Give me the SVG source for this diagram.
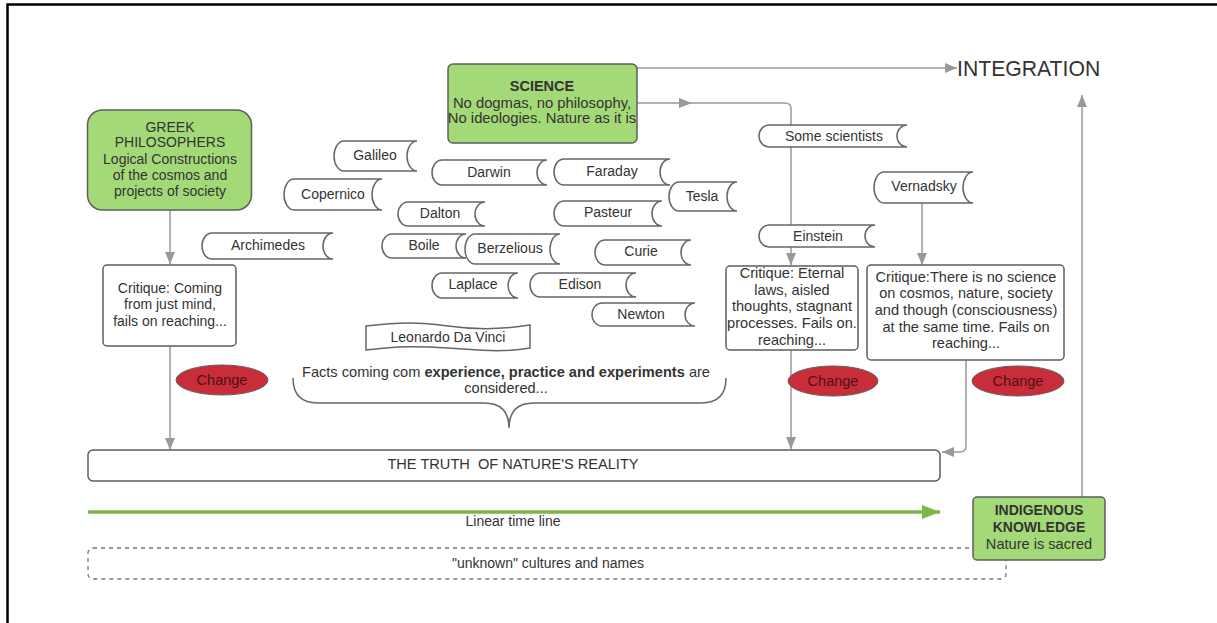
<svg xmlns="http://www.w3.org/2000/svg" width="1217" height="623" viewBox="0 0 1217 623">
<style>
text{font-family:"Liberation Sans",Arial,sans-serif;fill:#333;font-size:14px;text-anchor:middle}
.g{fill:#a3d977;stroke:#5e5e5e;stroke-width:1.5}
.w{fill:#fff;stroke:#5e5e5e;stroke-width:1.5}
.sc{fill:#fff;stroke:#666;stroke-width:1.5}
.ch{fill:#c92d39;stroke:#5e5e5e;stroke-width:1}
.cht{fill:#4d1115;font-size:14.5px}
.b{font-weight:bold}
.c{fill:none;stroke:#999;stroke-width:1.5}
.m{font-size:14.6px}
</style>
<defs>
<marker id="ah" viewBox="0 0 12 10" refX="12" refY="5" markerWidth="12" markerHeight="10" orient="auto" markerUnits="userSpaceOnUse"><path d="M0,0 L12,5 L0,10 z" fill="#999"/></marker>
<marker id="gah" viewBox="0 0 18 14" refX="18" refY="7" markerWidth="18" markerHeight="14" orient="auto" markerUnits="userSpaceOnUse"><path d="M0,0 L18,7 L0,14 z" fill="#7ab648"/></marker>
</defs>
<rect width="1217" height="623" fill="#fff"/>
<path d="M7.5 623 V4.5 H1217" fill="none" stroke="#000" stroke-width="2.5"/>

<g id="connectors">
<line class="c" x1="170" y1="210" x2="170" y2="264" marker-end="url(#ah)"/>
<line class="c" x1="170" y1="346" x2="170" y2="450" marker-end="url(#ah)"/>
<line class="c" x1="637" y1="68" x2="957" y2="68" marker-end="url(#ah)"/>
<path class="c" d="M637 103 H785 Q791 103 791 109 V265" marker-end="url(#ah)"/>
<path d="M679 98 L692 103 L679 108 z" fill="#999"/>
<line class="c" x1="922" y1="203" x2="922" y2="265" marker-end="url(#ah)"/>
<line class="c" x1="791" y1="350" x2="791" y2="449" marker-end="url(#ah)"/>
<path class="c" d="M966 360 V446 Q966 452 960 452 H942" marker-end="url(#ah)"/>
<line class="c" x1="1082" y1="497" x2="1082" y2="95" marker-end="url(#ah)"/>
<line x1="88" y1="512" x2="940" y2="512" stroke="#7ab648" stroke-width="3.5" marker-end="url(#gah)"/>
</g>

<g id="greek">
<rect class="g" x="87.5" y="110" width="164" height="100" rx="15"/>
<text x="170" y="132">GREEK</text>
<text x="170" y="147">PHILOSOPHERS</text>
<text x="170" y="164">Logical Constructions</text>
<text x="170" y="180">of the cosmos and</text>
<text x="170" y="196">projects of society</text>
</g>

<g id="critique1">
<rect class="w" x="103" y="265" width="133" height="81" rx="4"/>
<text x="170" y="293">Critique: Coming</text>
<text x="170" y="309">from just mind,</text>
<text x="170" y="326">fails on reaching...</text>
</g>

<g id="change1">
<ellipse class="ch" cx="222" cy="380" rx="46" ry="15"/>
<text class="cht" x="222" y="385">Change</text>
</g>

<g id="science">
<rect class="g" x="448" y="64" width="189" height="79" rx="5"/>
<text class="b" x="542" y="91" style="font-size:14.5px">SCIENCE</text>
<text x="542" y="108" style="font-size:14.8px">No dogmas, no philosophy,</text>
<text x="542" y="123" style="font-size:14.8px">No ideologies. Nature as it is</text>
</g>

<g id="integration">
<text x="957" y="76" style="font-size:21.2px;text-anchor:start">INTEGRATION</text>
</g>

<g id="galileo"><path class="sc" d="M344 141 H417 A10 15 0 0 0 417 171 H344 A10 15 0 0 1 344 141 Z"/><text x="375" y="160">Galileo</text></g>
<g id="copernico"><path class="sc" d="M294 179 H382 A10 15.5 0 0 0 382 210 H294 A10 15.5 0 0 1 294 179 Z"/><text x="333" y="199">Copernico</text></g>
<g id="archimedes"><path class="sc" d="M212 233 H333 A10 13 0 0 0 333 259 H212 A10 13 0 0 1 212 233 Z"/><text x="268" y="250">Archimedes</text></g>
<g id="darwin"><path class="sc" d="M442 160 H547 A10 12.5 0 0 0 547 185 H442 A10 12.5 0 0 1 442 160 Z"/><text x="489" y="177">Darwin</text></g>
<g id="faraday"><path class="sc" d="M564 159 H670 A10 13 0 0 0 670 185 H564 A10 13 0 0 1 564 159 Z"/><text x="612" y="176">Faraday</text></g>
<g id="tesla"><path class="sc" d="M679 182 H737 A10 14.5 0 0 0 737 211 H679 A10 14.5 0 0 1 679 182 Z"/><text x="702" y="201">Tesla</text></g>
<g id="dalton"><path class="sc" d="M408 202 H485 A10 12 0 0 0 485 226 H408 A10 12 0 0 1 408 202 Z"/><text x="440" y="218">Dalton</text></g>
<g id="pasteur"><path class="sc" d="M564 201 H662 A10 12.5 0 0 0 662 226 H564 A10 12.5 0 0 1 564 201 Z"/><text x="608" y="217">Pasteur</text></g>
<g id="boile"><path class="sc" d="M392 234 H466 A10 12 0 0 0 466 258 H392 A10 12 0 0 1 392 234 Z"/><text x="424" y="250">Boile</text></g>
<g id="berzelious"><path class="sc" d="M475 234 H560 A10 15 0 0 0 560 264 H475 A10 15 0 0 1 475 234 Z"/><text x="510" y="253">Berzelious</text></g>
<g id="curie"><path class="sc" d="M605 240 H691 A10 12.5 0 0 0 691 265 H605 A10 12.5 0 0 1 605 240 Z"/><text x="641" y="256">Curie</text></g>
<g id="laplace"><path class="sc" d="M442 273 H518 A10 12.5 0 0 0 518 298 H442 A10 12.5 0 0 1 442 273 Z"/><text x="473" y="289">Laplace</text></g>
<g id="edison"><path class="sc" d="M540 273 H636 A10 12 0 0 0 636 297 H540 A10 12 0 0 1 540 273 Z"/><text x="580" y="289">Edison</text></g>
<g id="newton"><path class="sc" d="M602 303 H695 A10 11.5 0 0 0 695 326 H602 A10 11.5 0 0 1 602 303 Z"/><text x="641" y="319">Newton</text></g>
<g id="some-scientists"><path class="sc" d="M769 125 H907 A10 11 0 0 0 907 147 H769 A10 11 0 0 1 769 125 Z"/><text x="834" y="141">Some scientists</text></g>
<g id="vernadsky"><path class="sc" d="M884 172 H973 A10 15.5 0 0 0 973 203 H884 A10 15.5 0 0 1 884 172 Z"/><text x="924" y="191">Vernadsky</text></g>
<g id="einstein"><path class="sc" d="M769 225 H875 A10 11 0 0 0 875 247 H769 A10 11 0 0 1 769 225 Z"/><text x="818" y="241">Einstein</text></g>

<g id="leonardo">
<path class="sc" d="M366 326 C400 322 420 322 448 326 S500 330 530 325 V348 C500 353 480 350 448 348 S400 346 366 350 Z"/>
<text x="448" y="342">Leonardo Da Vinci</text>
</g>

<g id="facts">
<text class="m" x="506" y="377">Facts coming com <tspan class="b">experience, practice and experiments</tspan> are</text>
<text class="m" x="506" y="393">considered...</text>
<path d="M293 378 Q293 403 318 403 H484 Q509 403 509 428 Q509 403 534 403 H701 Q726 403 726 378" fill="none" stroke="#666" stroke-width="1.5"/>
</g>

<g id="critique2">
<rect class="w" x="726" y="266" width="132" height="84" rx="4"/>
<text class="m" x="792" y="278">Critique: Eternal</text>
<text class="m" x="792" y="295">laws, aisled</text>
<text class="m" x="792" y="311">thoughts, stagnant</text>
<text class="m" x="792" y="328">processes. Fails on.</text>
<text class="m" x="792" y="345">reaching...</text>
</g>

<g id="change2">
<ellipse class="ch" cx="833" cy="381" rx="45" ry="15"/>
<text class="cht" x="833" y="386">Change</text>
</g>

<g id="critique3">
<rect class="w" x="867" y="265" width="197" height="95" rx="4"/>
<text class="m" x="966" y="282">Critique:There is no science</text>
<text class="m" x="966" y="298">on cosmos, nature, society</text>
<text class="m" x="966" y="315">and though (consciousness)</text>
<text class="m" x="966" y="332">at the same time. Fails on</text>
<text class="m" x="966" y="348">reaching...</text>
</g>

<g id="change3">
<ellipse class="ch" cx="1018" cy="381" rx="46" ry="15"/>
<text class="cht" x="1018" y="386">Change</text>
</g>

<g id="truth">
<rect class="w" x="88" y="450" width="852" height="31" rx="5"/>
<text class="m" x="513" y="469" xml:space="preserve">THE TRUTH  OF NATURE'S REALITY</text>
</g>

<g id="timeline">
<text x="513" y="526">Linear time line</text>
</g>

<g id="unknown">
<rect x="88" y="548" width="918" height="31" rx="5" fill="none" stroke="#777" stroke-width="1.3" stroke-dasharray="4,4"/>
<text x="548" y="568">"unknown" cultures and names</text>
</g>

<g id="indigenous">
<rect class="g" x="973" y="497" width="132" height="63" rx="4"/>
<text class="b" x="1039" y="515">INDIGENOUS</text>
<text class="b" x="1039" y="532">KNOWLEDGE</text>
<text class="m" x="1039" y="549">Nature is sacred</text>
</g>
</svg>
